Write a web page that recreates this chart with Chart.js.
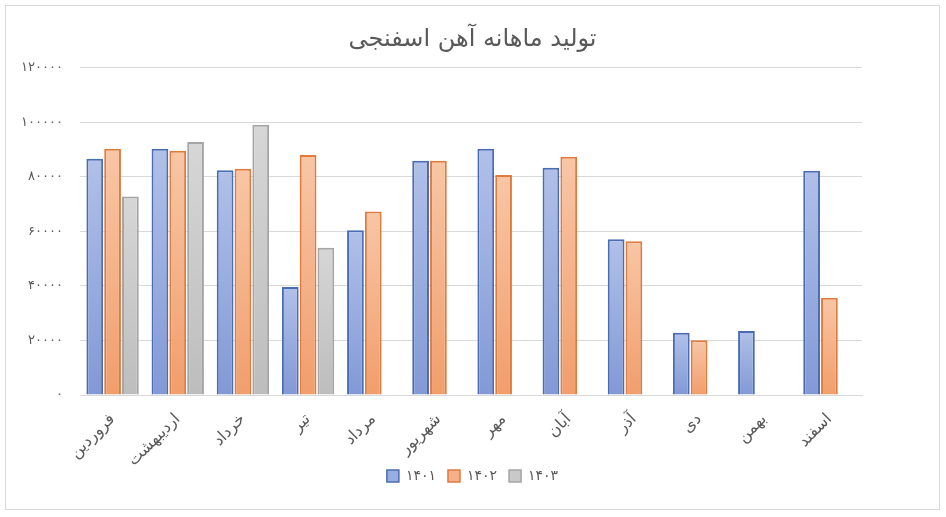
<!DOCTYPE html>
<html>
<head>
<meta charset="utf-8">
<script src="https://cdn.jsdelivr.net/npm/chart.js@4/dist/chart.umd.min.js"></script>
<style>
html,body{margin:0;padding:0;background:#fff;}
#box{position:absolute;left:5px;top:5px;width:935px;height:505px;border:1px solid #d9d9d9;box-sizing:border-box;background:#fff;}
#c{display:block;}
</style>
</head>
<body>
<div id="box"><canvas id="c" width="933" height="503"></canvas></div>
<script>
const chartTitle = 'تولید ماهانه آهن اسفنجی';
const months = ['فروردین','اردیبهشت','خرداد','تیر','مرداد','شهریور','مهر','آبان','آذر','دی','بهمن','اسفند'];
const seriesNames = ['۱۴۰۱','۱۴۰۲','۱۴۰۳'];
const values1401 = [86600, 90300, 82400, 39600, 60400, 85900, 90300, 83300, 57100, 22800, 23500, 82200];
const values1402 = [90300, 89600, 83000, 88000, 67300, 85900, 80700, 87400, 56400, 20100, null, 35700];
const values1403 = [72800, 92800, 99100, 54000, null, null, null, null, null, null, null, null];
const yMin = 0, yMax = 120000, yStep = 20000;

const faDigits = '۰۱۲۳۴۵۶۷۸۹';
const toFa = s => String(s).replace(/[0-9]/g, d => faDigits[+d]);

const FONT = "'DejaVu Sans', 'Noto Sans', sans-serif";
const TXT = '#595959';

const styles = [
  {top:'#b0c0e8', bot:'#8299d6', border:'#4a6cb3', legend:'#98aee0'},
  {top:'#f8c6a6', bot:'#f19e6c', border:'#e07b3c', legend:'#f5b08a'},
  {top:'#d6d6d6', bot:'#bdbdbd', border:'#a5a5a5', legend:'#c9c9c9'}
];

function gradFill(i){
  return function(ctx){
    const chart = ctx.chart;
    const area = chart.chartArea;
    if(!area || ctx.type !== 'data' || ctx.raw == null) return styles[i].legend;
    const ys = chart.scales.y;
    const top = ys.getPixelForValue(ctx.raw);
    const base = ys.getPixelForValue(0);
    if(!isFinite(top) || Math.abs(base-top) < 1) return styles[i].legend;
    const g = chart.ctx.createLinearGradient(0, top, 0, base);
    g.addColorStop(0, styles[i].top);
    g.addColorStop(1, styles[i].bot);
    return g;
  };
}

const dataArr = [values1401, values1402, values1403];
const datasets = dataArr.map((v,i)=>({
  label: seriesNames[i],
  data: v,
  backgroundColor: gradFill(i),
  borderColor: styles[i].border,
  borderWidth: 2,
  borderSkipped: 'bottom',
  categoryPercentage: 0.82,
  barPercentage: 0.94
}));

new Chart(document.getElementById('c'), {
  type: 'bar',
  data: { labels: months, datasets },
  options: {
    responsive: false,
    animation: false,
    devicePixelRatio: 1,
    layout: { padding: { left: 10, right: 10, top: 9, bottom: 16 } },
    plugins: {
      title: {
        display: true,
        text: chartTitle,
        color: TXT,
        font: { family: FONT, size: 24, weight: 'normal' },
        padding: { top: 10, bottom: 14 }
      },
      legend: {
        position: 'bottom',
        labels: {
          color: TXT,
          font: { family: FONT, size: 14 },
          boxWidth: 12,
          boxHeight: 12,
          padding: 12,
          generateLabels: (chart) => chart.data.datasets.map((ds,i)=>({
            text: ds.label,
            fillStyle: styles[i].legend,
            strokeStyle: styles[i].border,
            lineWidth: 1.5,
            fontColor: TXT,
            datasetIndex: i,
            hidden: false
          }))
        }
      },
      tooltip: { enabled: false }
    },
    scales: {
      x: {
        grid: { display: false, drawTicks: false },
        border: { display: true, color: '#d9d9d9', width: 1 },
        ticks: {
          color: TXT,
          font: { family: FONT, size: 16 },
          maxRotation: 45,
          minRotation: 45,
          padding: 15,
          autoSkip: false
        },
        afterFit: s => { s.height = 62; s._computeLabelArea = () => undefined; }
      },
      y: {
        min: yMin, max: yMax,
        grid: { color: '#d9d9d9', lineWidth: 1, drawTicks: false },
        border: { display: false },
        ticks: {
          stepSize: yStep,
          color: TXT,
          font: { family: FONT, size: 13 },
          padding: 17,
          callback: v => toFa(v)
        },
        afterFit: s => { s.width = 64; }
      },
      yR: {
        position: 'right',
        display: true,
        min: yMin, max: yMax,
        grid: { display: false, drawTicks: false },
        border: { display: false },
        ticks: { display: false },
        afterFit: s => { s.width = 67; }
      }
    }
  }
});
</script>
</body>
</html>
